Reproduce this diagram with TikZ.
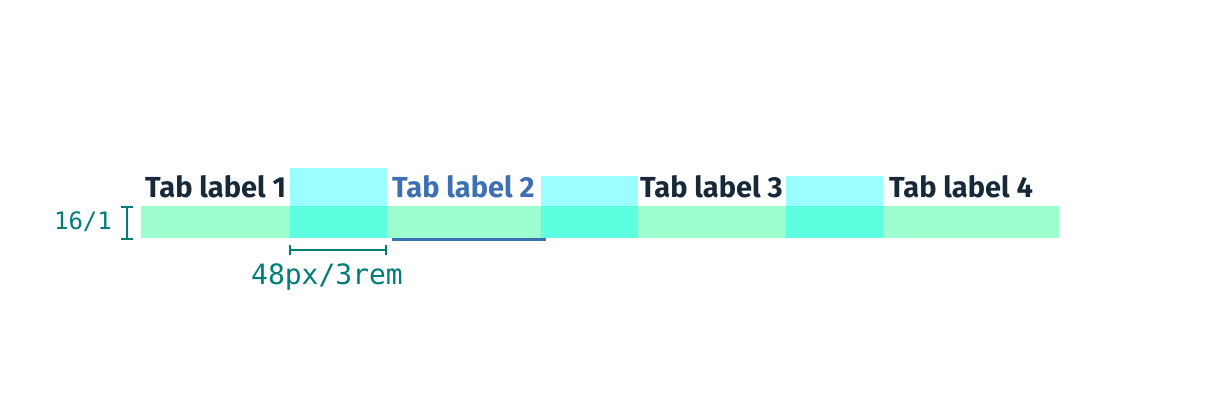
\documentclass[tikz,border=0pt]{standalone}
\usepackage{fontspec}
\setmainfont{Fira Sans}
\setmonofont{DejaVu Sans Mono}
\usepackage{tikz}
\definecolor{tabgreen}{RGB}{158,253,206}
\definecolor{tabcyan}{RGB}{155,255,255}
\definecolor{tabmix}{RGB}{94,255,224}
\definecolor{tabteal}{RGB}{0,125,121}
\definecolor{tabdark}{RGB}{23,41,56}
\definecolor{tabblue}{RGB}{61,112,178}

\begin{document}
\begin{tikzpicture}[x=1pt, y=1pt,
    tablabel/.style={anchor=base west, inner sep=0pt, font=\fontsize{29}{31}\selectfont\bfseries, text=tabdark},
    dimtext/.style={text=tabteal, inner sep=0pt}]
                \useasboundingbox (0,0) rectangle (1208,400);

                % Label row
                \fill[tabgreen] (141,162) rectangle (1059,194);

                % Gaps between tabs
                \foreach \gx/\gtop in {290/232, 541/224, 786/224} {
                    \fill[tabcyan] (\gx,194) rectangle ++(97,\gtop-194);
                    \fill[tabmix] (\gx,162) rectangle ++(97,32);
                }

                % Tab labels
                \node[tablabel] (lab1) at (145,203) {Tab label 1};
                \node[tablabel, text=tabblue] (lab2) at (392,203) {Tab label 2};
                \node[tablabel] (lab3) at (640,203) {Tab label 3};
                \node[tablabel] (lab4) at (889,203) {Tab label 4};

                % Selected underline
                \fill[tabblue] (392,159) rectangle (546,162);

                % Height marker
                \coordinate (hTop) at (127,193);
                \coordinate (hBot) at (127,161);
                \draw[tabteal, line width=1.5pt] (hTop) -- (hBot);
                \draw[tabteal, line width=1.5pt] ([xshift=-6pt]hTop) -- ([xshift=6pt]hTop);
                \draw[tabteal, line width=1.5pt] ([xshift=-6pt]hBot) -- ([xshift=6pt]hBot);
                \node[dimtext, font=\fontsize{24}{26}\selectfont\ttfamily] (hText) at (83,178) {16/1};

                % Gap width marker
                \coordinate (wL) at (290,150);
                \coordinate (wR) at (386,150);
                \draw[tabteal, line width=1.5pt] (wL) -- (wR);
                \draw[tabteal, line width=1.5pt] ([yshift=-5pt]wL) -- ([yshift=5pt]wL);
                \draw[tabteal, line width=1.5pt] ([yshift=-5pt]wR) -- ([yshift=5pt]wR);
                \node[dimtext, font=\fontsize{28}{30}\selectfont\ttfamily] (wText) at (327,123) {48px/3rem};
            \end{tikzpicture}
\end{document}
